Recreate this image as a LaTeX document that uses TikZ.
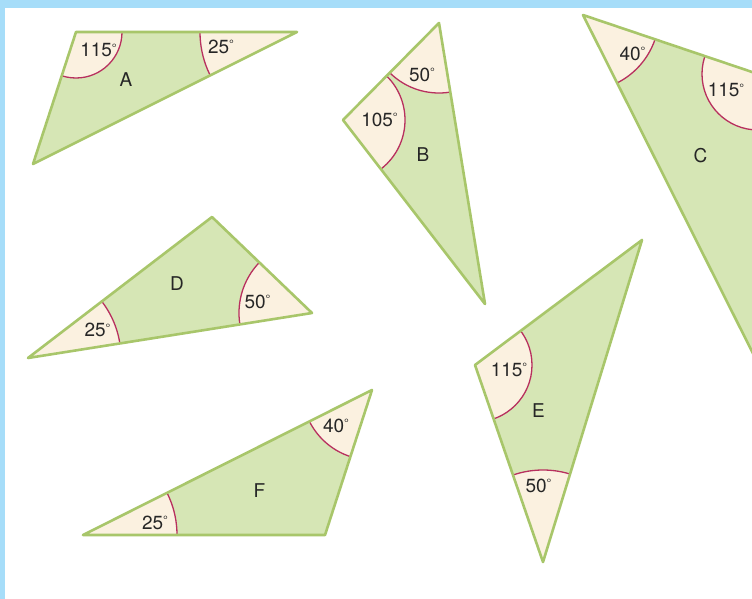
\documentclass[tikz,border=0pt]{standalone}
\usepackage{fontspec}
\setmainfont{TeX Gyre Heros}

\definecolor{framebl}{HTML}{A6DDF9}
\definecolor{trigreen}{HTML}{D6E6B5}
\definecolor{edgegreen}{HTML}{A8C66A}
\definecolor{wedgecream}{HTML}{FBF1E0}
\definecolor{arcred}{HTML}{B8305E}
\definecolor{labelgrey}{HTML}{262626}

\tikzset{wedgefill/.style={fill=wedgecream}, arcline/.style={draw=arcred, line width=1.3pt}}
\newcommand{\anglemark}[2]{%
	\fill[wedgefill] (#1) circle[radius=#2pt];
	\draw[arcline] (#1) circle[radius=#2pt];}
\newcommand{\dgr}{\raisebox{4.5pt}{\fontsize{12}{12}\selectfont °}}

\begin{document}
\begin{tikzpicture}[x=1pt, y=-1pt, font=\fontsize{19}{21}\selectfont]

%STYLE SETTINGS
\tikzstyle{tri}=[fill=trigreen]
\tikzstyle{edge}=[draw=edgegreen, line width=2.6pt, line join=round]
\tikzstyle{lbl}=[inner sep=0pt, text=labelgrey]

%FRAME
\useasboundingbox (0,0) rectangle (752,599);
\clip (0,0) rectangle (752,599);
\fill[framebl] (0,0) rectangle (752,599);
\fill[white] (5,8) rectangle (752,599);

%TRIANGLE A
\coordinate (A1) at (76,32);
\coordinate (A2) at (297,32);
\coordinate (A3) at (33,164);
\fill[tri] (A1) -- (A2) -- (A3) -- cycle;
\begin{scope}
	\clip (A1) -- (A2) -- (A3) -- cycle;
	\anglemark{A1}{46}
	\anglemark{A2}{97}
\end{scope}
\draw[edge] (A1) -- (A2) -- (A3) -- cycle;
\node[lbl] (Aone) at (98.5,50) {115\dgr};
\node[lbl] (Atwo) at (221,46.5) {25\dgr};
\node[lbl] (Aname) at (126,80) {A};

%TRIANGLE B
\coordinate (B1) at (439,23);
\coordinate (B2) at (343,120);
\coordinate (B3) at (485,304);
\fill[tri] (B1) -- (B2) -- (B3) -- cycle;
\begin{scope}
	\clip (B1) -- (B2) -- (B3) -- cycle;
	\anglemark{B1}{70}
	\anglemark{B2}{62}
\end{scope}
\draw[edge] (B1) -- (B2) -- (B3) -- cycle;
\node[lbl] (Bone) at (422,74.5) {50\dgr};
\node[lbl] (Btwo) at (379.5,119.5) {105\dgr};
\node[lbl] (Bname) at (423,154.5) {B};

%TRIANGLE C
\coordinate (C1) at (583,15);
\coordinate (C2) at (758,74);
\coordinate (C3) at (809,465);
\fill[tri] (C1) -- (C2) -- (C3) -- cycle;
\begin{scope}
	\clip (C1) -- (C2) -- (C3) -- cycle;
	\anglemark{C1}{76}
	\anglemark{C2}{56}
\end{scope}
\draw[edge] (C1) -- (C2) -- (C3) -- cycle;
\node[lbl] (Cone) at (632.5,53.5) {40\dgr};
\node[lbl] (Ctwo) at (726,90) {115\dgr};
\node[lbl] (Cname) at (700.5,155.5) {C};

%TRIANGLE D
\coordinate (D1) at (212,217);
\coordinate (D2) at (312,313);
\coordinate (D3) at (28,358);
\fill[tri] (D1) -- (D2) -- (D3) -- cycle;
\begin{scope}
	\clip (D1) -- (D2) -- (D3) -- cycle;
	\anglemark{D3}{93}
	\anglemark{D2}{73}
\end{scope}
\draw[edge] (D1) -- (D2) -- (D3) -- cycle;
\node[lbl] (Done) at (97.5,330) {25\dgr};
\node[lbl] (Dtwo) at (257.5,301.5) {50\dgr};
\node[lbl] (Dname) at (177,284) {D};

%TRIANGLE E
\coordinate (E1) at (642,240);
\coordinate (E2) at (475,365);
\coordinate (E3) at (543,562);
\fill[tri] (E1) -- (E2) -- (E3) -- cycle;
\begin{scope}
	\clip (E1) -- (E2) -- (E3) -- cycle;
	\anglemark{E2}{57}
	\anglemark{E3}{92}
\end{scope}
\draw[edge] (E1) -- (E2) -- (E3) -- cycle;
\node[lbl] (Eone) at (509,369.5) {115\dgr};
\node[lbl] (Etwo) at (538.5,485.5) {50\dgr};
\node[lbl] (Ename) at (538.5,410.5) {E};

%TRIANGLE F
\coordinate (F1) at (372,390);
\coordinate (F2) at (83,535);
\coordinate (F3) at (325,535);
\fill[tri] (F1) -- (F2) -- (F3) -- cycle;
\begin{scope}
	\clip (F1) -- (F2) -- (F3) -- cycle;
	\anglemark{F2}{94}
	\anglemark{F1}{70}
\end{scope}
\draw[edge] (F1) -- (F2) -- (F3) -- cycle;
\node[lbl] (Fone) at (155,522.5) {25\dgr};
\node[lbl] (Ftwo) at (336,425.5) {40\dgr};
\node[lbl] (Fname) at (259.5,491) {F};

\end{tikzpicture}
\end{document}
